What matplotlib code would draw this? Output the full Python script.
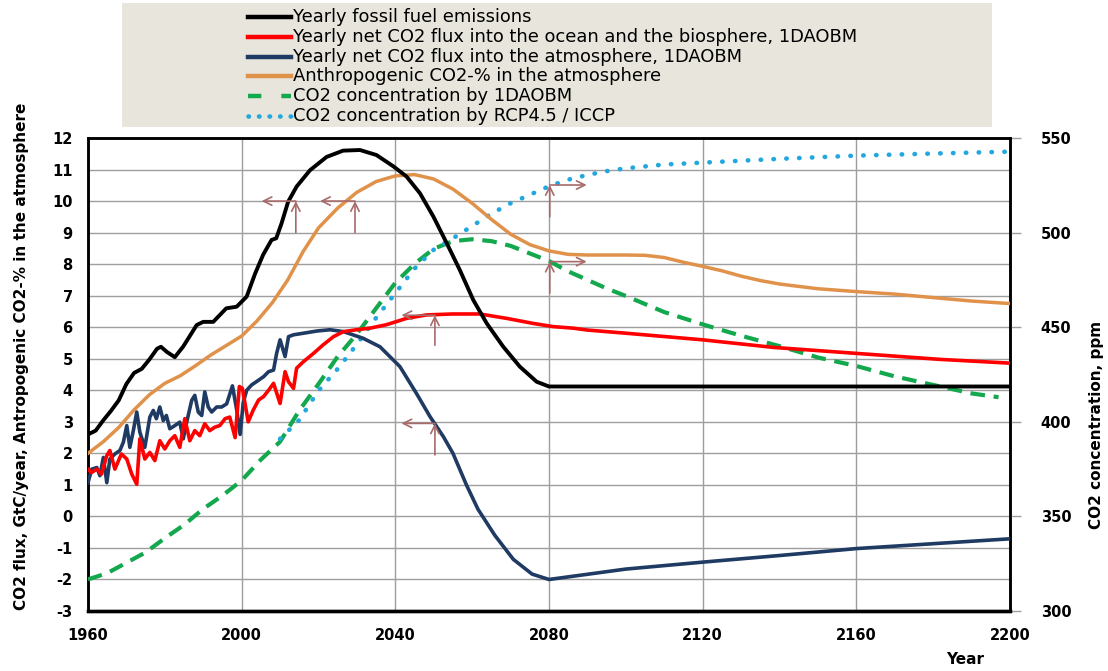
import matplotlib
matplotlib.use("Agg")
import matplotlib.pyplot as plt
from matplotlib.patches import Rectangle
from matplotlib.lines import Line2D

# Yearly fossil fuel emissions, GtC/year
fossil_years = [1960, 1962, 1964, 1966, 1968, 1970, 1972, 1974, 1976, 1978, 1979,
                1980.5, 1982.6, 1984.8, 1988.3, 1990, 1992.6, 1996, 1998.7, 2001.3,
                2003.5, 2005.6, 2007.8, 2009, 2010.4, 2012.1, 2014.3, 2017.8, 2022.1,
                2026.4, 2030.8, 2035.1, 2039.5, 2042.9, 2046.4, 2049.9, 2053.4,
                2056.8, 2060.3, 2063.8, 2068.1, 2072.4, 2076.8, 2080, 2200]
fossil_vals = [2.6, 2.72, 3.05, 3.35, 3.68, 4.2, 4.55, 4.68, 4.98, 5.32, 5.38,
               5.22, 5.05, 5.39, 6.07, 6.17, 6.17, 6.6, 6.65, 6.97,
               7.7, 8.3, 8.77, 8.82, 9.3, 9.98, 10.46, 10.98, 11.4,
               11.6, 11.62, 11.46, 11.1, 10.78, 10.25, 9.51, 8.66,
               7.81, 6.86, 6.12, 5.38, 4.75, 4.27, 4.12, 4.12]

# Net flux into ocean and biosphere, GtC/year
ocean_years = [1960, 1960.9, 1962.3, 1963.5, 1964.9, 1965.7, 1967, 1968.7, 1970.1,
               1971.4, 1972.7, 1973.5, 1974.8, 1976.1, 1977.4, 1978.7, 1980,
               1981.3, 1982.6, 1983.9, 1985.2, 1986.5, 1987.8, 1989.1, 1990.4,
               1991.7, 1993, 1994.3, 1995.7, 1996.9, 1998.3, 1999.4, 2000.2,
               2001.7, 2003, 2004.4, 2005.7, 2007, 2008.3, 2010, 2011.3, 2012.2,
               2013.5, 2014.3, 2016.1, 2018.7, 2021.2, 2023.9, 2026.5, 2029.9,
               2033.4, 2037.7, 2042.9, 2048.1, 2055, 2062, 2069, 2075.9, 2081,
               2086.3, 2090, 2100, 2120, 2138.4, 2160, 2181.8, 2200]
ocean_vals = [1.5, 1.39, 1.5, 1.34, 1.93, 2.09, 1.5, 1.98, 1.82,
              1.34, 1.02, 2.46, 1.82, 2.03, 1.77, 2.4, 2.14,
              2.4, 2.56, 2.19, 3.1, 2.4, 2.72, 2.56, 2.94,
              2.72, 2.83, 2.88, 3.1, 3.15, 2.5, 4.12, 4.06,
              3.0, 3.37, 3.69, 3.8, 4.0, 4.22, 3.58, 4.59, 4.27,
              4.06, 4.7, 4.91, 5.17, 5.44, 5.7, 5.86, 5.92,
              5.97, 6.08, 6.28, 6.39, 6.42, 6.42, 6.28, 6.12, 6.02,
              5.97, 5.91, 5.81, 5.6, 5.36, 5.17, 4.98, 4.86]

# Net flux into the atmosphere, GtC/year
atmos_years = [1960, 1961, 1962.3, 1963.1, 1964, 1964.9, 1965.7, 1967, 1968.3,
               1969.2, 1970.1, 1970.9, 1971.8, 1972.7, 1973.5, 1974.8, 1976.1,
               1977, 1977.8, 1978.7, 1979.6, 1980.4, 1981.3, 1982.6, 1983.9,
               1984.8, 1985.6, 1987, 1987.8, 1988.7, 1989.6, 1990.4, 1991.3,
               1992.2, 1993.5, 1994.8, 1996.1, 1997.6, 1998.7, 1999.6, 2000.4,
               2001.3, 2002.6, 2004.4, 2005.7, 2007, 2008.3, 2009.1, 2010, 2011.3,
               2012.2, 2013.5, 2016.1, 2019.6, 2023, 2026.5, 2031.6, 2036,
               2041.2, 2045.5, 2049, 2052.5, 2055, 2058.5, 2061.5, 2065.9,
               2070.7, 2075.6, 2080, 2100, 2120, 2140, 2160, 2200]
atmos_vals = [1.07, 1.5, 1.55, 1.29, 1.87, 1.07, 1.82, 1.98, 2.09,
              2.35, 2.88, 2.19, 2.72, 3.31, 2.67, 2.19, 3.15,
              3.36, 3.1, 3.47, 3.04, 3.2, 2.78, 2.88, 2.99,
              2.46, 2.94, 3.68, 3.84, 3.31, 3.2, 3.95, 3.47,
              3.31, 3.47, 3.47, 3.57, 4.14, 3.39, 2.6, 3.6,
              4.0, 4.17, 4.32, 4.43, 4.59, 4.64, 5.17, 5.6, 5.07,
              5.7, 5.76, 5.81, 5.88, 5.92, 5.86, 5.65, 5.38,
              4.75, 3.9, 3.17, 2.53, 2.0, 1.0, 0.23, -0.6,
              -1.36, -1.83, -2.0, -1.67, -1.45, -1.24, -1.02, -0.71]

# Anthropogenic CO2 share of the atmosphere, %
anthro_years = [1960, 1964, 1968, 1972, 1976, 1980, 1984, 1988, 1992, 1996, 2000,
                2004, 2008, 2012, 2016, 2020, 2025, 2030, 2035, 2040, 2045, 2050,
                2055, 2060, 2065, 2070, 2075, 2080, 2085, 2090, 2100, 2105, 2110,
                2115, 2120, 2125, 2130, 2135, 2140, 2150, 2160, 2170, 2180, 2190,
                2200]
anthro_vals = [2.0, 2.37, 2.82, 3.38, 3.86, 4.22, 4.46, 4.78, 5.12, 5.42, 5.72,
               6.2, 6.78, 7.5, 8.4, 9.15, 9.78, 10.28, 10.62, 10.8, 10.84, 10.7,
               10.38, 9.93, 9.42, 8.95, 8.62, 8.42, 8.31, 8.29, 8.29, 8.28, 8.21,
               8.06, 7.93, 7.79, 7.62, 7.48, 7.37, 7.22, 7.13, 7.05, 6.94, 6.83,
               6.75]

# CO2 concentration, ppm (right axis)
model_years = [1960, 1965, 1970, 1975, 1980, 1985, 1990, 1995, 2000, 2005, 2010,
               2015, 2020, 2025, 2030, 2035, 2040, 2045, 2050, 2055, 2060, 2065,
               2070, 2075, 2080, 2085, 2090, 2095, 2100, 2110, 2120, 2130, 2140,
               2150, 2160, 2170, 2180, 2190, 2197]
model_ppm = [316.7, 320, 325.5, 331, 338.5, 345.5, 354, 361, 369, 380, 389.5,
             406, 420, 434.5, 446.5, 460, 473.5, 483.5, 491.5, 495.5, 496.5, 495.5,
             493, 489, 485, 479.5, 475, 470.5, 466.5, 458, 451.5, 445.5, 440,
             434, 429.5, 424, 419.5, 415, 413]

rcp_years = [2010, 2015, 2020, 2025, 2030, 2035, 2040, 2045, 2050, 2055, 2060,
             2065, 2070, 2075, 2080, 2085, 2090, 2095, 2100, 2110, 2120, 2140,
             2160, 2180, 2200]
rcp_ppm = [391, 401, 416.5, 428, 441, 455, 468, 481, 491, 497, 503.5,
           510, 515.5, 520, 524.5, 528, 530.5, 532.5, 534, 536, 537, 539,
           540.7, 541.8, 542.8]

# axis pointers: stem from base to top at x, then a horizontal arrow to tip_x
arrow_x = [2014.1, 2029.5, 2050.3, 2050.3, 2080.2, 2080.2]
arrow_base = [9.0, 9.0, 5.43, 1.95, 9.5, 7.08]
arrow_top = [10.0, 10.0, 6.38, 2.95, 10.51, 8.08]
arrow_tip = [2005.2, 2020.4, 2041.6, 2041.6, 2089.8, 2089.8]

labels = ["Yearly fossil fuel emissions",
          "Yearly net CO2 flux into the ocean and the biosphere, 1DAOBM",
          "Yearly net CO2 flux into the atmosphere, 1DAOBM",
          "Anthropogenic CO2-% in the atmosphere",
          "CO2 concentration by 1DAOBM",
          "CO2 concentration by RCP4.5 / ICCP"]

C_BLACK = "#000000"
C_RED = "#FF0000"
C_NAVY = "#1F3A63"
C_ORANGE = "#E0924A"
C_GREEN = "#14A84E"
C_CYAN = "#22A8DF"
C_ARROW = "#A86A6A"

GREEN_DASH = (3.5, 2.1)
CYAN_DOTS = (0, (0.1, 2.7))

plt.rcParams["font.family"] = ["DejaVu Sans"]
plt.rcParams["axes.unicode_minus"] = False

fig = plt.figure(figsize=(11.08, 6.71), dpi=100)
ax = fig.add_axes([0.0794, 0.0894, 0.8322, 0.7049])
ax2 = ax.twinx()

ax.set_xlim(1960, 2200)
ax.set_ylim(-3, 12)
ax2.set_ylim(300, 550)

ax.set_xticks(range(1960, 2201, 40))
ax.set_yticks(range(-3, 13))
ax2.set_yticks(range(300, 551, 50))
ax.grid(True, color="#9E9E9E", linewidth=1.0)
ax.set_axisbelow(True)

for a in (ax, ax2):
    for s in a.spines.values():
        s.set_color("black")
        s.set_linewidth(1.8)
    a.spines["bottom"].set_linewidth(2.4)

ax.tick_params(axis="both", length=0, labelsize=10.5)
ax.tick_params(axis="y", pad=11)
ax.tick_params(axis="x", pad=12)
ax2.tick_params(axis="y", length=8, width=1, color="#9E9E9E", pad=14, labelsize=10.5)
for lab in ax.get_xticklabels() + ax.get_yticklabels() + ax2.get_yticklabels():
    lab.set_fontweight("bold")

ax2.plot(model_years, model_ppm, color=C_GREEN, lw=3, dashes=GREEN_DASH, zorder=3)
ax2.plot(rcp_years, rcp_ppm, color=C_CYAN, lw=3.3, linestyle=CYAN_DOTS,
         dash_capstyle="round", zorder=3)
ax2.set_zorder(ax.get_zorder() + 1)
ax2.patch.set_visible(False)

ax2.plot(anthro_years, anthro_vals, color=C_ORANGE, lw=2.5,
         transform=ax.transData, zorder=4)
ax2.plot(atmos_years, atmos_vals, color=C_NAVY, lw=2.6,
         transform=ax.transData, zorder=4)
ax2.plot(ocean_years, ocean_vals, color=C_RED, lw=2.6,
         transform=ax.transData, zorder=5)
ax2.plot(fossil_years, fossil_vals, color=C_BLACK, lw=2.8,
         transform=ax.transData, zorder=6)

arrow_props = dict(arrowstyle="->", color=C_ARROW, lw=1.2,
                   mutation_scale=15, shrinkA=0, shrinkB=0)
for x, y0, y1, xt in zip(arrow_x, arrow_base, arrow_top, arrow_tip):
    ax2.annotate("", xy=(x, y1), xytext=(x, y0), xycoords=ax.transData,
                 textcoords=ax.transData, arrowprops=arrow_props, zorder=7)
    ax2.annotate("", xy=(xt, y1), xytext=(x, y1), xycoords=ax.transData,
                 textcoords=ax.transData, arrowprops=arrow_props, zorder=7)

fig.text(22 / 1108, 1 - 356 / 671,
         "CO2 flux, GtC/year, Antropogenic CO2-% in the atmosphere",
         rotation=90, ha="center", va="center", fontsize=11, fontweight="bold")
fig.text(1097 / 1108, 1 - 425 / 671, "CO2 concentration, ppm",
         rotation=90, ha="center", va="center", fontsize=11, fontweight="bold")
fig.text(965 / 1108, 1 - 660 / 671, "Year", ha="center", va="center",
         fontsize=11, fontweight="bold")

# legend panel, drawn row by row
fig.patches.append(Rectangle((122 / 1108, 1 - 127 / 671), 870 / 1108, 124 / 671,
                             transform=fig.transFigure, facecolor="#E8E5DC",
                             edgecolor="none", zorder=0))
legend_styles = [
    dict(color=C_BLACK, lw=3.2),
    dict(color=C_RED, lw=3.2),
    dict(color=C_NAVY, lw=3.2),
    dict(color=C_ORANGE, lw=3.2),
    dict(color=C_GREEN, lw=3.2, dashes=(3, 4.5)),
    dict(color=C_CYAN, lw=3.3, linestyle=(0, (0.1, 2.2)), dash_capstyle="round"),
]
row_y = 17
for style, text in zip(legend_styles, labels):
    yf = 1 - row_y / 671
    fig.add_artist(Line2D([248 / 1108, 291 / 1108], [yf, yf],
                          transform=fig.transFigure, **style))
    fig.text(293 / 1108, yf, text, ha="left", va="center", fontsize=12.9)
    row_y += 19.8

fig.savefig("out.png", dpi=100)
